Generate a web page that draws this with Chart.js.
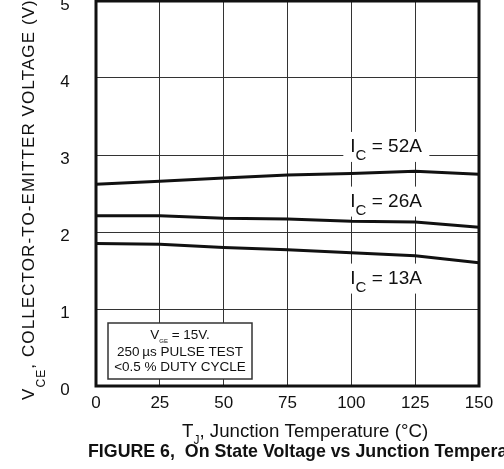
<!DOCTYPE html>
<html>
<head>
<meta charset="utf-8">
<script src="https://cdn.jsdelivr.net/npm/chart.js@4.4.1/dist/chart.umd.min.js"></script>
<style>
  html, body { margin: 0; padding: 0; background: #fff; }
  canvas { display: block; }
</style>
</head>
<body>
<canvas id="grafico" width="504" height="469"></canvas>
<script>
// temperatura de junção (°C) e tensão coletor-emissor (V) para cada corrente
const temperaturas = [0, 25, 50, 75, 100, 125, 150];
const vce52 = [2.62, 2.66, 2.70, 2.74, 2.76, 2.79, 2.75];
const vce26 = [2.21, 2.21, 2.18, 2.17, 2.14, 2.13, 2.06];
const vce13 = [1.85, 1.84, 1.80, 1.77, 1.73, 1.69, 1.60];
const correntes = ['52A', '26A', '13A'];
const ticksX = [0, 25, 50, 75, 100, 125, 150];
const ticksY = [0, 1, 2, 3, 4, 5];

const FONTE = '"Liberation Sans", Arial, Helvetica, sans-serif';

function pontos(valores) {
    return temperaturas.map((t, i) => ({ x: t, y: valores[i] }));
}

// escreve texto com partes em subscrito: [texto, tamanho, deslocamento, negrito]
function textoComposto(ctx, x, y, partes, alinhamento) {
    let total = 0;
    partes.forEach(p => {
        ctx.font = (p[3] ? 'bold ' : '') + p[1] + 'px ' + FONTE;
        total += ctx.measureText(p[0]).width;
    });
    let cx = alinhamento === 'center' ? x - total / 2 : x;
    partes.forEach(p => {
        ctx.font = (p[3] ? 'bold ' : '') + p[1] + 'px ' + FONTE;
        ctx.fillText(p[0], cx, y + (p[2] || 0));
        cx += ctx.measureText(p[0]).width;
    });
    return total;
}

const textos = {
    id: 'textos',
    afterDatasetsDraw(chart) {
        const ctx = chart.ctx;
        const area = chart.chartArea;
        const sx = chart.scales.x;
        const sy = chart.scales.y;
        ctx.save();
        ctx.fillStyle = '#111';
        ctx.textBaseline = 'alphabetic';

        // rótulos das curvas, com fundo branco sobre a grade
        const posRotulos = [3.04, 2.33, 1.33];
        correntes.forEach((c, i) => {
            const x = sx.getPixelForValue(100) - 1;
            const y = sy.getPixelForValue(posRotulos[i]);
            ctx.fillStyle = '#fff';
            ctx.fillRect(x - 7, y - 20, 86, 30);
            ctx.fillStyle = '#111';
            textoComposto(ctx, x, y, [['I', 19, 0], ['C', 15, 8], [' = ' + c, 19, 0]], 'left');
        });

        // caixa com as condições de teste
        ctx.fillStyle = '#fff';
        ctx.fillRect(108, 323, 144, 56);
        ctx.strokeStyle = '#333';
        ctx.lineWidth = 1.5;
        ctx.strokeRect(108, 323, 144, 56);
        ctx.fillStyle = '#111';
        textoComposto(ctx, 180, 338.5, [['V', 13.5, 0], ['GE', 6, 4], [' = 15V.', 13.5, 0]], 'center');
        textoComposto(ctx, 180, 355.5, [['250\u2009\u00b5s PULSE TEST', 13.5, 0]], 'center');
        textoComposto(ctx, 180, 371, [['<0.5 % DUTY CYCLE', 13.5, 0]], 'center');

        // moldura grossa do gráfico
        ctx.strokeStyle = '#111';
        ctx.lineWidth = 3;
        ctx.strokeRect(area.left, area.top, area.right - area.left, area.bottom - area.top);

        // valores dos eixos
        ctx.font = '17px ' + FONTE;
        ctx.textAlign = 'center';
        ticksX.forEach(v => ctx.fillText(String(v), sx.getPixelForValue(v), 408));
        ticksY.forEach(v => ctx.fillText(String(v), 65, sy.getPixelForValue(v) + 9));
        ctx.textAlign = 'left';

        // título do eixo x
        textoComposto(ctx, 182, 436.5, [['T', 18.7, 0], ['J', 12, 7], [', Junction Temperature (\u00b0C)', 18.7, 0]], 'left');

        // título do eixo y (girado)
        ctx.save();
        ctx.translate(34, 400);
        ctx.rotate(-Math.PI / 2);
        ctx.letterSpacing = '1.1px';
        textoComposto(ctx, 0, 0, [['V', 17, 0], ['CE', 12, 11], [', COLLECTOR-TO-EMITTER VOLTAGE (V)', 17, 0]], 'left');
        ctx.restore();

        // legenda da figura
        textoComposto(ctx, 88, 457, [['FIGURE 6,  On State Voltage vs Junction Temperature', 17.8, 0, true]], 'left');

        ctx.restore();
    }
};

const serie = (valores) => ({
    data: pontos(valores),
    borderColor: '#111',
    borderWidth: 3,
    pointRadius: 0,
    tension: 0,
    fill: false
});

new Chart(document.getElementById('grafico'), {
    type: 'line',
    data: {
        datasets: [serie(vce52), serie(vce26), serie(vce13)]
    },
    options: {
        responsive: false,
        animation: false,
        devicePixelRatio: 1,
        layout: { padding: { left: 96, right: 25, top: 1, bottom: 83 } },
        plugins: { legend: { display: false }, tooltip: { enabled: false } },
        scales: {
            x: {
                type: 'linear', min: 0, max: 150,
                ticks: { stepSize: 25, display: false },
                grid: { color: '#333', lineWidth: 1, drawTicks: false },
                border: { display: false }
            },
            y: {
                type: 'linear', min: 0, max: 5,
                ticks: { stepSize: 1, display: false },
                grid: { color: '#333', lineWidth: 1, drawTicks: false },
                border: { display: false }
            }
        }
    },
    plugins: [textos]
});
</script>
</body>
</html>
